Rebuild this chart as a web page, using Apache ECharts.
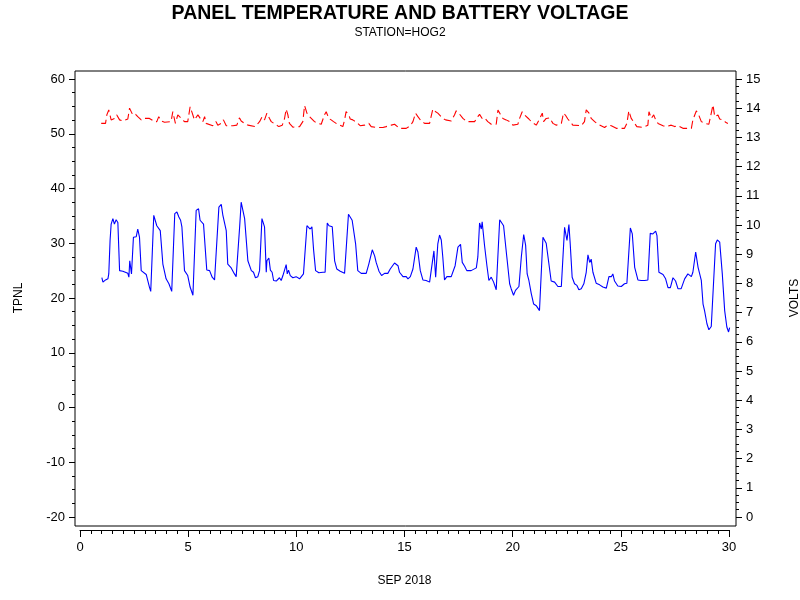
<!DOCTYPE html>
<html><head><meta charset="utf-8">
<script src="https://cdn.jsdelivr.net/npm/echarts@6/dist/echarts.min.js"></script>
<style>html,body{margin:0;padding:0;background:#fff}#c{width:800px;height:600px}</style>
</head><body><div id="c"></div>
<script>
const titleText = 'PANEL TEMPERATURE AND BATTERY VOLTAGE';
const subtitleText = 'STATION=HOG2';
const xAxisName = 'SEP 2018';
const leftAxisName = 'TPNL';
const rightAxisName = 'VOLTS';

// Panel temperature (left axis): day of month, value
const tpnlDays = [1.01,1.06,1.18,1.29,1.33,1.39,1.44,1.52,1.59,1.67,1.75,1.83,1.98,2.21,2.26,2.30,2.38,2.47,2.60,2.67,2.75,2.83,3.06,3.21,3.27,3.41,3.49,3.55,3.64,3.71,3.83,3.98,4.11,4.24,4.38,4.48,4.57,4.65,4.71,4.83,4.98,5.09,5.22,5.37,5.48,5.55,5.63,5.71,5.86,5.99,6.11,6.22,6.29,6.42,6.53,6.60,6.68,6.76,6.83,6.99,7.14,7.22,7.30,7.38,7.45,7.53,7.61,7.65,7.76,7.92,8.02,8.11,8.22,8.30,8.41,8.49,8.53,8.61,8.64,8.73,8.80,8.88,8.95,9.07,9.22,9.30,9.38,9.45,9.53,9.58,9.64,9.72,9.84,9.99,10.15,10.22,10.33,10.49,10.56,10.64,10.72,10.80,10.89,11.04,11.23,11.33,11.43,11.51,11.58,11.66,11.77,11.87,12.03,12.23,12.41,12.49,12.58,12.66,12.74,12.84,13.00,13.08,13.23,13.35,13.51,13.62,13.69,13.82,13.94,14.08,14.23,14.34,14.43,14.54,14.62,14.70,14.77,14.93,15.08,15.16,15.27,15.39,15.54,15.62,15.73,15.85,16.00,16.16,16.23,16.36,16.44,16.54,16.62,16.70,16.77,16.85,16.96,17.16,17.24,17.34,17.47,17.55,17.59,17.67,17.78,17.88,18.08,18.16,18.32,18.39,18.47,18.55,18.59,18.70,18.81,18.90,19.01,19.12,19.24,19.40,19.49,19.58,19.66,19.73,19.86,19.93,20.04,20.13,20.29,20.40,20.51,20.60,20.67,20.75,20.86,20.97,21.09,21.17,21.24,21.40,21.47,21.55,21.63,21.78,21.94,22.09,22.25,22.40,22.51,22.60,22.66,22.75,22.86,22.97,23.06,23.17,23.29,23.40,23.48,23.56,23.63,23.71,23.86,24.02,24.17,24.33,24.37,24.45,24.56,24.63,24.71,24.86,25.02,25.17,25.28,25.44,25.53,25.64,25.71,25.79,25.94,26.10,26.17,26.25,26.36,26.48,26.61,26.67,26.76,26.95,27.07,27.18,27.29,27.41,27.53,27.64,27.79,27.95,28.10,28.18,28.26,28.33,28.41,28.46,28.57,28.64,28.72,28.80,28.87,28.98,29.07,29.18,29.26,29.38,29.46,29.57,29.61,29.69,29.80,29.90,29.98,30.03];
const tpnlValues = [23.7,22.9,23.3,23.5,24.4,30.5,33.5,34.5,33.5,34.3,33.8,25.0,24.9,24.5,23.8,26.8,24.4,31.1,31.2,32.6,31.1,25.0,24.3,22.0,21.2,35.1,34.8,33.2,33.5,32.3,26.2,23.5,22.6,21.2,35.4,35.7,34.8,34.2,33.0,25.0,24.1,22.0,20.5,36.0,36.3,34.2,34.3,33.5,25.1,25.0,23.8,23.3,23.5,36.6,37.1,35.2,35.4,32.3,26.2,25.5,24.4,23.9,24.0,33.0,37.5,36.0,34.5,34.2,26.8,25.0,24.7,23.7,23.9,25.0,34.5,34.6,33.0,24.7,26.8,27.3,25.1,24.7,23.2,23.1,23.7,23.2,24.1,24.1,26.1,24.4,25.1,24.1,23.7,23.9,23.5,23.8,24.4,33.2,33.4,32.6,33.0,28.7,25.0,24.6,24.7,24.7,33.7,33.2,33.5,33.0,26.8,25.3,24.9,24.5,35.3,35.4,34.2,34.3,29.9,25.0,24.5,24.7,24.5,26.2,28.8,27.7,26.5,24.9,24.1,24.5,24.5,25.3,25.6,26.4,26.5,25.9,24.7,23.9,23.9,23.5,23.9,25.3,29.3,28.4,25.0,23.3,23.2,22.9,23.2,28.6,23.8,29.9,31.5,30.6,27.5,23.3,23.9,23.9,23.7,25.9,29.3,29.0,29.8,26.5,25.8,25.0,25.0,25.3,25.5,27.5,33.7,32.6,33.9,29.6,25.9,23.2,23.8,22.9,21.5,34.3,34.5,33.2,33.0,27.5,22.6,21.7,20.5,21.4,22.1,27.5,31.6,29.6,24.4,23.2,20.8,18.9,18.6,18.4,17.7,31.1,30.8,30.0,30.2,23.1,22.9,22.1,22.1,32.9,30.5,33.4,29.9,23.8,22.6,22.3,21.5,21.7,22.6,24.7,27.9,26.5,27.1,24.7,22.7,22.4,22.0,21.8,21.5,23.9,23.9,24.4,23.1,22.2,22.1,22.6,22.7,32.8,31.7,25.6,25.7,23.3,23.2,23.2,22.9,23.3,31.8,31.7,32.2,31.4,24.7,24.3,23.5,21.9,21.9,23.7,23.1,21.7,21.7,23.5,24.4,24.5,23.9,24.7,24.7,28.4,25.6,25.7,23.2,18.9,17.7,15.3,14.2,14.8,14.7,29.9,30.6,30.2,30.5,24.4,17.7,14.7,13.8,14.6];

// Battery voltage (right axis): day of month, value
const voltDays = [0.98,1.18,1.24,1.33,1.44,1.59,1.70,1.83,1.98,2.21,2.29,2.33,2.44,2.57,2.67,2.83,2.98,3.21,3.29,3.44,3.55,3.64,3.75,3.91,4.21,4.29,4.41,4.52,4.68,4.83,4.98,5.09,5.19,5.29,5.45,5.56,5.68,5.76,5.83,6.14,6.29,6.37,6.53,6.63,6.76,7.07,7.25,7.37,7.45,7.61,7.76,7.84,8.11,8.30,8.42,8.53,8.64,8.76,8.84,9.19,9.35,9.45,9.53,9.61,9.68,9.84,10.15,10.30,10.38,10.49,10.61,10.69,10.84,10.99,11.15,11.30,11.38,11.50,11.61,11.72,11.84,12.15,12.23,12.30,12.43,12.49,12.61,12.74,12.84,12.95,13.15,13.35,13.46,13.69,14.00,14.15,14.39,14.54,14.77,15.08,15.27,15.39,15.51,15.62,15.77,15.93,16.16,16.31,16.44,16.54,16.62,16.77,16.90,17.16,17.31,17.39,17.51,17.58,17.70,17.88,18.24,18.39,18.47,18.59,18.70,18.85,19.01,19.24,19.32,19.43,19.55,19.63,19.70,19.86,20.01,20.24,20.32,20.44,20.55,20.63,20.75,20.86,21.09,21.24,21.37,21.43,21.55,21.71,21.86,22.02,22.25,22.35,22.45,22.55,22.66,22.78,23.17,23.32,23.40,23.53,23.63,23.79,23.94,24.25,24.40,24.56,24.79,25.17,25.28,25.37,25.48,25.64,25.74,26.02,26.25,26.30,26.41,26.52,26.61,26.72,26.95,27.10,27.33,27.49,27.64,27.87,28.26,28.33,28.49,28.61,28.72,28.87,29.07,29.26,29.34,29.41,29.49,29.57,29.72,29.84,29.95];
const voltValues = [13.48,13.48,13.77,13.94,13.60,13.65,13.77,13.60,13.56,13.63,14.00,14.05,13.77,13.79,13.71,13.60,13.65,13.65,13.60,13.54,13.54,13.71,13.56,13.52,13.54,13.88,13.48,13.77,13.65,13.54,13.54,14.05,13.83,13.60,13.77,13.65,13.54,13.71,13.48,13.40,13.54,13.42,13.48,13.60,13.40,13.40,13.42,13.67,13.56,13.48,13.42,13.37,13.37,13.54,13.71,13.60,13.83,13.65,13.54,13.37,13.42,13.63,13.97,13.77,13.48,13.35,13.37,13.54,14.09,13.83,13.71,13.75,13.54,13.48,13.45,13.77,13.88,13.65,13.60,13.54,13.48,13.37,13.60,13.88,13.77,13.63,13.60,13.54,13.48,13.40,13.42,13.48,13.37,13.34,13.34,13.37,13.42,13.45,13.31,13.31,13.40,13.54,13.83,13.71,13.56,13.48,13.48,13.97,13.88,13.83,13.86,13.65,13.60,13.56,13.77,13.91,13.83,13.77,13.65,13.54,13.54,13.71,13.79,13.65,13.67,13.54,13.45,13.45,13.94,13.79,13.65,13.71,13.60,13.54,13.42,13.45,13.65,13.88,13.77,13.83,13.63,13.54,13.42,13.63,13.83,13.54,13.65,13.67,13.48,13.42,13.48,13.83,13.75,13.63,13.54,13.42,13.40,13.54,13.94,13.83,13.65,13.54,13.45,13.34,13.42,13.40,13.31,13.31,13.48,13.91,13.65,13.48,13.37,13.34,13.42,13.88,13.65,13.77,13.60,13.48,13.40,13.37,13.42,13.37,13.40,13.31,13.31,13.60,13.91,13.75,13.54,13.48,13.45,14.11,13.71,13.65,13.77,13.63,13.60,13.52,13.48];

const xTicks = {min: 0, max: 30, step: 5};
const leftTicks = {min: -20, max: 60, step: 10};
const rightTicks = {min: 0, max: 15, step: 1};

const font = 'Liberation Sans, Arial, sans-serif';
const tpnlData = tpnlDays.map((d, i) => [d, tpnlValues[i]]);
const voltData = voltDays.map((d, i) => [d, voltValues[i]]);

const chart = echarts.init(document.getElementById('c'), null, {renderer: 'canvas'});
chart.setOption({
  animation: false,
  backgroundColor: '#fff',
  title: [
    {text: titleText, left: 'center', top: -1, textStyle: {fontFamily: 'Liberation Sans Narrow, ' + font, fontWeight: 'bold', fontSize: 19.5, color: '#000'}},
    {text: subtitleText, left: 'center', top: 22, textStyle: {fontFamily: font, fontWeight: 'normal', fontSize: 12, color: '#000'}}
  ],
  grid: {left: 80, right: 71, top: 79, bottom: 83, containLabel: false, outerBoundsMode: 'none'},
  graphic: [{type: 'rect', shape: {x: 75, y: 71, width: 661, height: 455}, style: {fill: 'none', stroke: '#000', lineWidth: 1}, z: 10}],
  xAxis: {
    type: 'value', min: xTicks.min, max: xTicks.max, interval: xTicks.step,
    position: 'bottom', offset: 13,
    name: xAxisName, nameLocation: 'middle', nameGap: 45,
    nameTextStyle: {fontFamily: font, fontSize: 12, color: '#000'},
    axisLine: {show: true, onZero: false, lineStyle: {color: '#000', width: 1}},
    axisTick: {show: true, inside: false, length: 7, lineStyle: {color: '#000'}},
    minorTick: {show: true, splitNumber: 10, length: 4, lineStyle: {color: '#000'}},
    axisLabel: {fontFamily: font, fontSize: 13, color: '#000', margin: 11},
    splitLine: {show: false}
  },
  yAxis: [
    {
      type: 'value', min: leftTicks.min, max: leftTicks.max, interval: leftTicks.step,
      position: 'left', offset: 5,
      name: leftAxisName, nameLocation: 'middle', nameGap: 50, nameRotate: 90,
      nameTextStyle: {fontFamily: font, fontSize: 12, color: '#000'},
      axisLine: {show: false, onZero: false},
      axisTick: {show: true, inside: false, length: 6, lineStyle: {color: '#000'}},
      minorTick: {show: true, splitNumber: 4, length: 3, lineStyle: {color: '#000'}},
      axisLabel: {fontFamily: font, fontSize: 13, color: '#000', margin: 10},
      splitLine: {show: false}
    },
    {
      type: 'value', min: rightTicks.min, max: rightTicks.max, interval: rightTicks.step,
      position: 'right', offset: 7,
      name: rightAxisName, nameLocation: 'middle', nameGap: 53, nameRotate: 90,
      nameTextStyle: {fontFamily: font, fontSize: 12, color: '#000'},
      axisLine: {show: false, onZero: false},
      axisTick: {show: true, inside: false, length: 6, lineStyle: {color: '#000'}},
      minorTick: {show: true, splitNumber: 4, length: 3, lineStyle: {color: '#000'}},
      axisLabel: {fontFamily: font, fontSize: 13, color: '#000', margin: 10},
      splitLine: {show: false}
    }
  ],
  series: [
    {name: 'TPNL', type: 'line', yAxisIndex: 0, data: tpnlData, showSymbol: false, symbol: 'none',
     lineStyle: {color: '#0000ff', width: 1.1}, z: 3},
    {name: 'VOLTS', type: 'line', yAxisIndex: 1, data: voltData, showSymbol: false, symbol: 'none',
     lineStyle: {color: '#ff0000', width: 1.1, type: [8, 4]}, z: 4}
  ]
});
</script></body></html>
